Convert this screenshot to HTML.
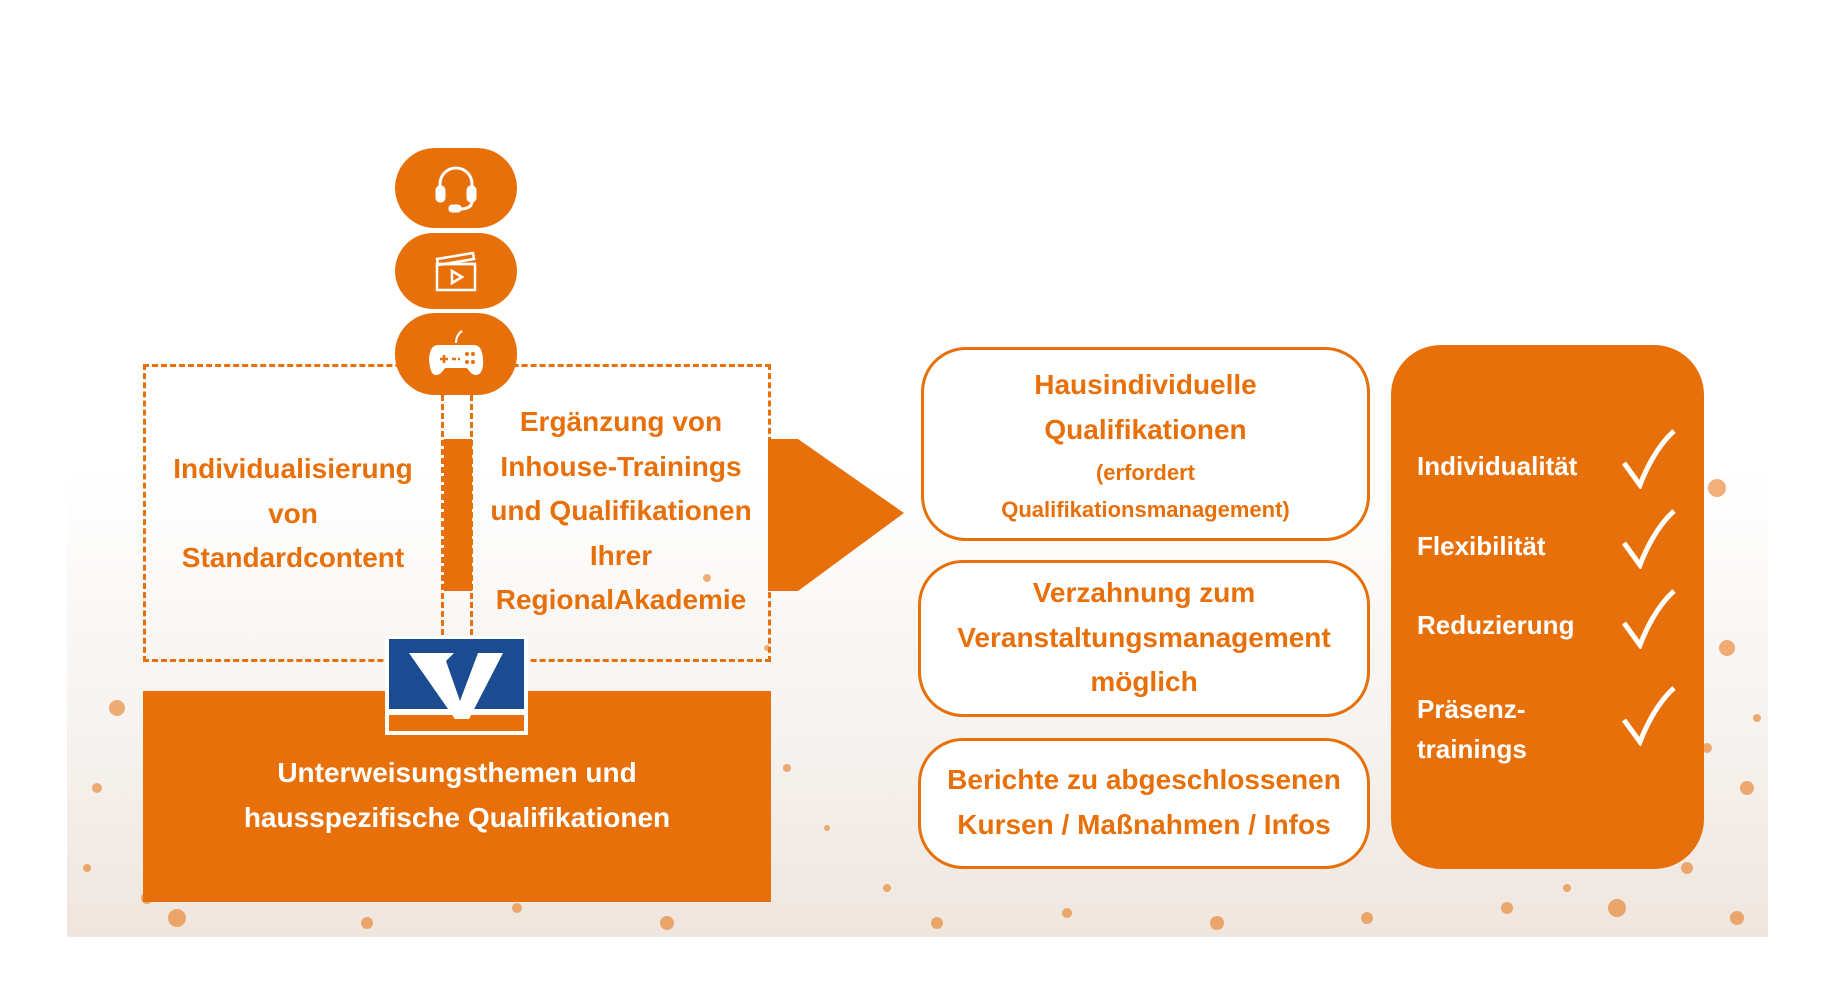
<!DOCTYPE html>
<html><head><meta charset="utf-8"><style>
body{margin:0;width:1827px;height:1000px;overflow:hidden;background:#fff;font-family:"Liberation Sans",sans-serif;font-weight:bold;position:relative}
.a{position:absolute}
.t{position:absolute;text-align:center;color:#E8700A;white-space:nowrap}
.pill{position:absolute;left:395px;width:122px;background:#E8700A;border-radius:40px;display:flex;align-items:center;justify-content:center}
.box{position:absolute;border:3px solid #E8700A;border-radius:45px;background:#fff;box-sizing:border-box}
.w{color:#fff;position:absolute;font-size:26px;white-space:nowrap}
.ck{position:absolute;left:1620px}
</style></head><body>
<div class="a" style="left:67px;top:468px;width:1701px;height:469px;background:linear-gradient(#fff 0%,#f6f3f0 55%,#efe6de 100%)"></div>
<svg class="a" style="left:67px;top:468px" width="1701" height="469">
<g fill="#E8700A" opacity="0.55">
<circle cx="50" cy="240" r="8"/><circle cx="80" cy="430" r="6"/><circle cx="30" cy="320" r="5"/><circle cx="110" cy="450" r="9"/><circle cx="20" cy="400" r="4"/>
<circle cx="300" cy="455" r="6"/><circle cx="450" cy="440" r="5"/><circle cx="600" cy="455" r="7"/><circle cx="720" cy="300" r="4"/><circle cx="760" cy="360" r="3"/>
<circle cx="820" cy="420" r="4"/><circle cx="870" cy="455" r="6"/><circle cx="1000" cy="445" r="5"/><circle cx="1150" cy="455" r="7"/><circle cx="1300" cy="450" r="6"/>
<circle cx="1440" cy="440" r="6"/><circle cx="1500" cy="420" r="4"/><circle cx="1550" cy="440" r="9"/><circle cx="1650" cy="20" r="9"/><circle cx="1660" cy="180" r="8"/>
<circle cx="1680" cy="320" r="7"/><circle cx="1640" cy="280" r="5"/><circle cx="1690" cy="250" r="4"/><circle cx="1620" cy="400" r="6"/><circle cx="1670" cy="450" r="7"/>
<circle cx="640" cy="110" r="4"/><circle cx="700" cy="180" r="3"/><circle cx="880" cy="210" r="3"/><circle cx="1080" cy="100" r="3"/>
</g></svg>

<div class="a" style="left:143px;top:364px;width:628px;height:298px;border:3px dashed #E8700A;box-sizing:border-box"></div>
<div class="a" style="left:441px;top:395px;width:32px;height:240px;border-left:3px dashed #E8700A;border-right:3px dashed #E8700A;box-sizing:border-box"></div>
<div class="a" style="left:444px;top:439px;width:28px;height:152px;background:#E8700A"></div>

<svg class="a" style="left:768px;top:439px" width="140" height="155"><polygon points="0,0 30,0 136,74 30,152 0,152" fill="#E8700A"/></svg>

<div class="pill" style="top:148px;height:80px"><svg width="56" height="56" viewBox="0 0 56 56" fill="none" stroke="#fff" stroke-width="3"><path d="M12 32V24a16 16 0 0 1 32 0v8"/><rect x="9" y="27" width="7" height="14" rx="3" fill="#fff"/><rect x="40" y="27" width="7" height="14" rx="3" fill="#fff"/><path d="M44 41q0 8-12 8"/><rect x="22" y="46" width="10" height="5" rx="2" fill="#fff"/></svg></div>
<div class="pill" style="top:233px;height:76px"><svg width="50" height="50" viewBox="0 0 50 50" fill="none" stroke="#fff" stroke-width="2.5"><rect x="6" y="18" width="38" height="26"/><path d="M6 13l36-6 1 6-36 6z"/><path d="M6 18h38M21 25v12l10-6z"/></svg></div>
<div class="pill" style="top:313px;height:82px"><svg width="60" height="50" viewBox="0 0 60 50"><path d="M30 14q0-8 6-12" stroke="#fff" stroke-width="2" fill="none"/><path d="M12 16h36q8 0 9 14t-6 16q-5 1-10-7H19q-5 8-10 7t-6-16q1-14 9-14z" fill="#fff"/><path d="M14 30h8M18 26v8M26 30h4M32 30h2" stroke="#E8700A" stroke-width="2.5"/><circle cx="41" cy="25" r="2" fill="#E8700A"/><circle cx="47" cy="25" r="2" fill="#E8700A"/><circle cx="41" cy="33" r="2" fill="#E8700A"/><circle cx="47" cy="33" r="2" fill="#E8700A"/></svg></div>

<div class="t" style="left:143px;width:300px;top:447px;font-size:28px;line-height:44.5px">Individualisierung<br>von<br>Standardcontent</div>
<div class="t" style="left:473px;width:296px;top:400px;font-size:28px;line-height:44.5px">Ergänzung von<br>Inhouse-Trainings<br>und Qualifikationen<br>Ihrer<br>RegionalAkademie</div>

<div class="a" style="left:143px;top:691px;width:628px;height:211px;background:#E8700A"></div>
<div class="t" style="left:143px;width:628px;top:751px;font-size:28px;line-height:44.5px;color:#fff">Unterweisungsthemen und<br>hausspezifische Qualifikationen</div>

<div class="a" style="left:385px;top:636px;width:143px;height:99px;background:#fff"></div>
<div class="a" style="left:389px;top:639px;width:135px;height:70px;background:#1B4C92"></div>
<div class="a" style="left:389px;top:715px;width:135px;height:16px;background:#E8700A"></div>
<svg class="a" style="left:389px;top:639px" width="135" height="92"><path d="M20 14h45l-8 8 14 40 18-48h25l-34 66h-14z" fill="#fff"/></svg>

<div class="box" style="left:921px;top:347px;width:449px;height:194px"></div>
<div class="t" style="left:921px;width:449px;top:362px;font-size:28px;line-height:45px">Hausindividuelle<br>Qualifikationen</div>
<div class="t" style="left:921px;width:449px;top:454px;font-size:22px;line-height:37px">(erfordert<br>Qualifikationsmanagement)</div>
<div class="box" style="left:918px;top:560px;width:452px;height:157px"></div>
<div class="t" style="left:918px;width:452px;top:571px;font-size:28px;line-height:44.5px">Verzahnung zum<br>Veranstaltungsmanagement<br>möglich</div>
<div class="box" style="left:918px;top:738px;width:452px;height:131px"></div>
<div class="t" style="left:918px;width:452px;top:758px;font-size:28px;line-height:44.5px">Berichte zu abgeschlossenen<br>Kursen / Maßnahmen / Infos</div>

<div class="a" style="left:1391px;top:345px;width:313px;height:524px;background:#E8700A;border-radius:50px"></div>
<div class="w" style="left:1417px;top:451px">Individualität</div>
<div class="w" style="left:1417px;top:531px">Flexibilität</div>
<div class="w" style="left:1417px;top:610px">Reduzierung</div>
<div class="w" style="left:1417px;top:689px;line-height:40px">Präsenz-<br>trainings</div>
<svg class="ck" style="top:427px" width="58" height="62"><path d="M4 36l16 22q14-36 34-54" stroke="#fff" stroke-width="5" fill="none"/></svg>
<svg class="ck" style="top:507px" width="58" height="62"><path d="M4 36l16 22q14-36 34-54" stroke="#fff" stroke-width="5" fill="none"/></svg>
<svg class="ck" style="top:587px" width="58" height="62"><path d="M4 36l16 22q14-36 34-54" stroke="#fff" stroke-width="5" fill="none"/></svg>
<svg class="ck" style="top:684px" width="58" height="62"><path d="M4 36l16 22q14-36 34-54" stroke="#fff" stroke-width="5" fill="none"/></svg>
</body></html>
